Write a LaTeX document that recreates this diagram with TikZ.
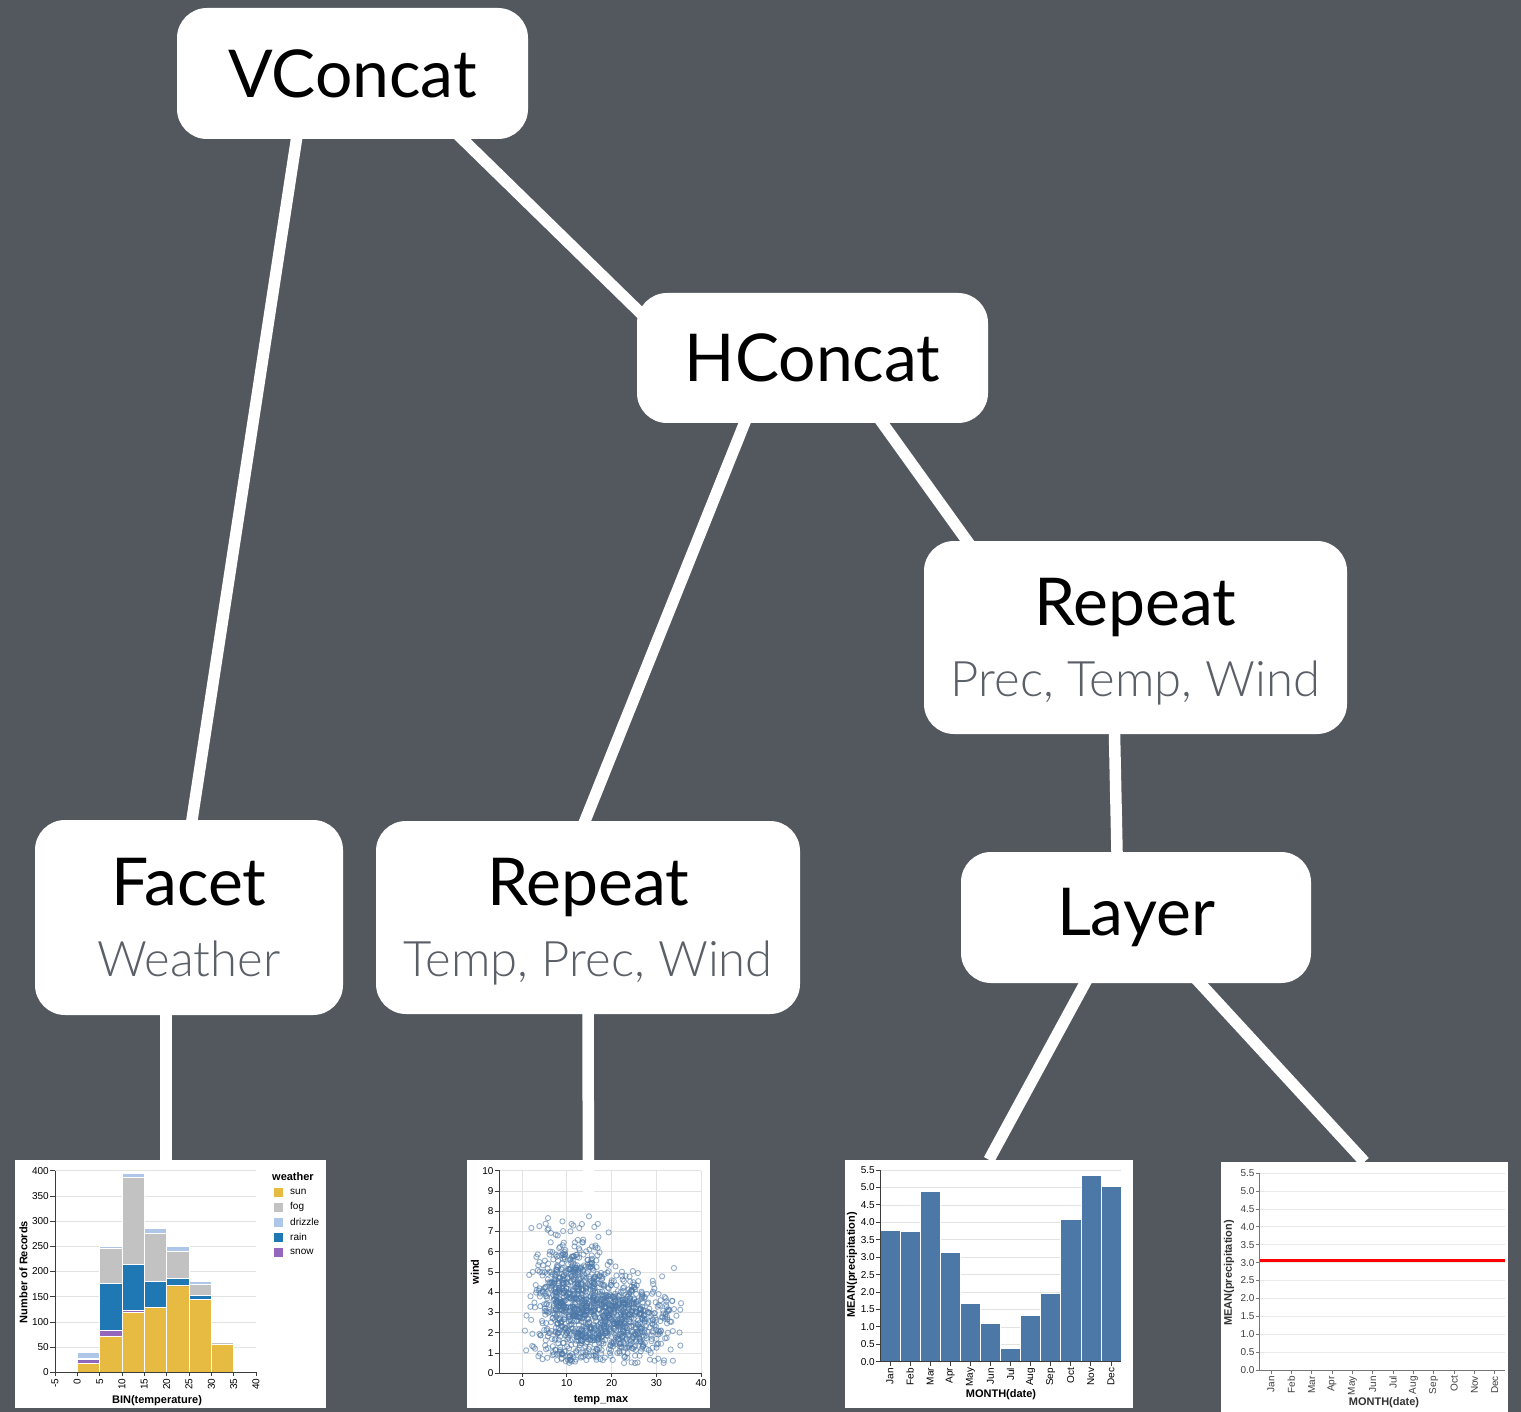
\documentclass[tikz,border=0pt]{standalone}
\usepackage{fontspec}
\setmainfont{Lato}
\newfontfamily\lightfont{Lato Light}
\newfontfamily\chartfont{Liberation Sans}
\usetikzlibrary{backgrounds}
\pgfdeclarelayer{links}
\pgfsetlayers{background,links,main}
\definecolor{cbg}{HTML}{53585F}
\definecolor{csub}{HTML}{5B6068}
\definecolor{cgridl}{HTML}{E3E3E3}
\definecolor{caxis}{HTML}{3C3C3C}
\definecolor{cbar}{HTML}{4C78A8}
\definecolor{csun}{HTML}{E7BA41}
\definecolor{cfog}{HTML}{C2C2C2}
\definecolor{cdrizzle}{HTML}{AEC7E8}
\definecolor{crain}{HTML}{1F77B4}
\definecolor{csnow}{HTML}{9467BD}
\tikzset{
  spec/.style={fill=white, rounded corners=30pt, inner sep=0pt, align=center, font=\fontsize{66}{71}\selectfont},
  link/.style={draw=white, line width=11.5pt, shorten <=-14pt},
  chart/.style={fill=white, inner sep=0pt},
  gline/.style={draw=cgridl, line width=0.7pt},
  axline/.style={draw=caxis, line width=0.8pt},
  tlab/.style={font=\chartfont\fontsize{10}{11}\selectfont, inner sep=0pt},
  atitle/.style={font=\chartfont\bfseries\fontsize{11}{12}\selectfont, inner sep=0pt},
  seg/.style={draw=white, line width=0.5pt},
}

\begin{document}
\begin{tikzpicture}[x=1pt, y=-1pt,
    sdot/.style={draw=cbar, draw opacity=0.6, line width=0.9pt},
  ]
  \newcommand{\subt}[1]{\\{\lightfont\fontsize{49}{71}\selectfont\color{csub}#1}}
  \useasboundingbox (0,0) rectangle (1521,1412);

  % tree
  \node[spec, minimum width=351pt, minimum height=131pt] (vcat) at (352.5,73.5) {VConcat};
  \node[spec, minimum width=351pt, minimum height=130pt] (hcat) at (812.5,358) {HConcat};
  \node[spec, text depth=0pt, minimum width=423pt, minimum height=193pt] (rep1) at (1135.5,637.5) {Repeat\subt{Prec, Temp, Wind}};
  \node[spec, minimum width=308pt, minimum height=195pt] (facet) at (189,917.5) {Facet\subt{Weather}};
  \node[spec, text depth=0pt, minimum width=424pt, minimum height=193pt] (rep2) at (588,917.5) {Repeat\subt{Temp, Prec, Wind}};
  \node[spec, minimum width=350pt, minimum height=131pt] (layer) at (1136,917.5) {Layer};

  \begin{scope}[on background layer]
    \fill[cbg] (0,0) rectangle (1521,1412);
    \node[chart, minimum width=311pt, minimum height=248pt] (hist) at (170.5,1284) {};
    \node[chart, minimum width=243pt, minimum height=248pt] (scatter) at (588.5,1284) {};
    \node[chart, minimum width=288pt, minimum height=248pt] (bars) at (989,1284) {};
    \node[chart, minimum width=287pt, minimum height=250pt] (rule) at (1364.5,1287) {};

    % stacked histogram
    \begin{scope}[shift={(77.3,1372.3)}, x=4.467pt, y=0.504pt]
      \foreach \c in {0,50,...,400} \draw[gline] (-5,\c) -- (40,\c);
      \foreach \b/\s/\n/\r/\f/\d in {-5/2/2/2/2/2, 0/17/25/25/28/39, 5/72/83/177/246/251,
          10/120/123/215/388/394, 15/130/130/180/275/285, 20/172/172/187/240/251,
          25/145/145/153/174/180, 30/56/56/56/60/61, 35/0/0/2/2/2}{
        \filldraw[seg, fill=csun] (\b,0) rectangle (\b+5,\s);
        \filldraw[seg, fill=csnow] (\b,\s) rectangle (\b+5,\n);
        \filldraw[seg, fill=crain] (\b,\n) rectangle (\b+5,\r);
        \filldraw[seg, fill=cfog] (\b,\r) rectangle (\b+5,\f);
        \filldraw[seg, fill=cdrizzle] (\b,\f) rectangle (\b+5,\d);
      }
      \draw[axline] (-5,400) -- (-5,0) -- (40,0);
      \foreach \c in {0,50,...,400}{
        \draw[axline] (-5,\c) -- ++(-5pt,0);
        \node[tlab, anchor=east, xshift=-6pt] (hy\c) at (-5,\c) {\c};
      }
      \foreach \t in {-5,0,...,40}{
        \draw[axline] (\t,0) -- ++(0,-4pt);
        \node[tlab, yshift=-6pt, rotate=90, anchor=east] (hx\t) at (\t,0) {\t};
      }
    \end{scope}
    \node[atitle, rotate=90] (htitley) at (23.5,1272) {Number of Records};
    \node[atitle] (htitlex) at (157,1401) {BIN(temperature)};
    \node[atitle, anchor=west] (legtitle) at (272,1177) {weather};
    \foreach \lab/\col [count=\i from 0] in {sun/csun, fog/cfog, drizzle/cdrizzle, rain/crain, snow/csnow}{
      \fill[\col] (274,1187.5+15*\i) rectangle ++(9,9);
      \node[tlab, anchor=west] (leg\i) at (290,1192+15*\i) {\lab};
    }

    % scatter
    \begin{scope}[shift={(522,1373.3)}, x=4.48pt, y=20.26pt]
      \foreach \t in {0,10,...,40} \draw[gline] (\t,0) -- (\t,10);
      \foreach \w in {0,...,10} \draw[gline] (-5,\w) -- (40,\w);
      \pgfmathsetseed{2017}
      \foreach \k in {1,...,700}{
        \pgfmathsetmacro\tx{max(-1.8,min(35.5,11+4*(rand+rand+rand)))}
        \pgfmathsetmacro\wy{min(9.6,0.5+abs(3.2+1.6*(rand+rand+rand)))}
        \draw[sdot] (\tx,\wy) circle[radius=2.6pt];
      }
      \foreach \k in {1,...,700}{
        \pgfmathsetmacro\tx{max(-1.8,min(35.5,21.5+5.5*(rand+rand+rand)))}
        \pgfmathsetmacro\wy{min(9.6,0.5+abs(2.2+0.95*(rand+rand+rand)))}
        \draw[sdot] (\tx,\wy) circle[radius=2.6pt];
      }
      \draw[axline] (-5,10) -- (-5,0) -- (40,0);
      \foreach \w in {0,...,10}{
        \draw[axline] (-5,\w) -- ++(-5pt,0);
        \node[tlab, anchor=east, xshift=-6pt] (sy\w) at (-5,\w) {\w};
      }
      \foreach \t in {0,10,...,40}{
        \draw[axline] (\t,0) -- ++(0,-4pt);
        \node[tlab, anchor=north, yshift=-6pt] (sx\t) at (\t,0) {\t};
      }
    \end{scope}
    \node[atitle, rotate=90] (stitley) at (475,1272) {wind};
    \node[atitle] (stitlex) at (601,1400) {temp\_max};

    % mean precipitation bars
    \begin{scope}[shift={(880,1361.7)}, x=20.08pt, y=34.85pt]
      \foreach \v in {0,0.5,...,5.5} \draw[gline] (0,\v) -- (12,\v);
      \foreach \v [count=\i from 0] in {3.78,3.75,4.9,3.15,1.68,1.11,0.4,1.32,1.96,4.08,5.36,5.03}
        \filldraw[seg, fill=cbar] (\i,0) rectangle (\i+1,\v);
      \draw[axline] (0,5.5) -- (0,0) -- (12,0);
      \foreach \l [count=\i from 0] in {0.0,0.5,1.0,1.5,2.0,2.5,3.0,3.5,4.0,4.5,5.0,5.5}{
        \draw[axline] (0,\i/2) -- ++(-4pt,0);
        \node[tlab, anchor=east, xshift=-5pt] (by\i) at (0,\i/2) {\l};
      }
      \foreach \m [count=\i from 0] in {Jan,Feb,Mar,Apr,May,Jun,Jul,Aug,Sep,Oct,Nov,Dec}{
        \draw[axline] (\i+0.5,0) -- ++(0,-4pt);
        \node[tlab, yshift=-6pt, rotate=90, anchor=east] (bm\i) at (\i+0.5,0) {\m};
      }
    \end{scope}
    \node[atitle, rotate=90] (btitley) at (852,1265) {MEAN(precipitation)};
    \node[atitle] (btitlex) at (1001,1395) {MONTH(date)};

    % mean rule
    \begin{scope}[shift={(1259.7,1370)}, x=20.34pt, y=35.8pt]
      \foreach \v in {0,0.5,...,5.5} \draw[gline, draw=cgridl!80] (0,\v) -- (12.05,\v);
      \draw[red, line width=3pt] (0,3.05) -- (12.05,3.05);
      \draw[axline, draw=caxis!70] (0,5.5) -- (0,0) -- (12.05,0);
      \foreach \l [count=\i from 0] in {0.0,0.5,1.0,1.5,2.0,2.5,3.0,3.5,4.0,4.5,5.0,5.5}{
        \draw[axline, draw=caxis!70] (0,\i/2) -- ++(-4pt,0);
        \node[tlab, text=black!75, anchor=east, xshift=-5pt] (ry\i) at (0,\i/2) {\l};
      }
      \foreach \m [count=\i from 0] in {Jan,Feb,Mar,Apr,May,Jun,Jul,Aug,Sep,Oct,Nov,Dec}{
        \draw[axline, draw=caxis!70] (\i+0.556,0) -- ++(0,-4pt);
        \node[tlab, text=black!75, yshift=-6pt, rotate=90, anchor=east] (rm\i) at (\i+0.556,0) {\m};
      }
    \end{scope}
    \node[atitle, text=black!80, rotate=90] (rtitley) at (1229,1273) {MEAN(precipitation)};
    \node[atitle, text=black!80] (rtitlex) at (1384,1403) {MONTH(date)};
  \end{scope}

  % connectors
  \begin{pgfonlayer}{links}
    \draw[link, shorten >=-14pt] ([xshift=-56pt]vcat.south) -- ([xshift=3pt]facet.north);
    \draw[link] ([xshift=110pt]vcat.south) -- ([xshift=23pt,yshift=-39pt]hcat.north west);
    \draw[link, shorten >=-14pt] ([xshift=-68pt]hcat.south) -- ([xshift=-3pt]rep2.north);
    \draw[link] ([xshift=70pt]hcat.south) -- ([xshift=64pt,yshift=-29pt]rep1.north west);
    \draw[link, shorten >=-14pt] ([xshift=-21pt]rep1.south) -- ([xshift=-19pt]layer.north);
    \draw[link] ([xshift=-23pt]facet.south) -- ([xshift=-4.5pt]hist.north);
    \draw[link] (rep2.south) -- ([yshift=-32pt]scatter.north);
    \draw[link] ([xshift=-51pt]layer.south) -- (bars.north);
    \draw[link] ([xshift=64pt]layer.south) -- (rule.north);
  \end{pgfonlayer}
\end{tikzpicture}
\end{document}
